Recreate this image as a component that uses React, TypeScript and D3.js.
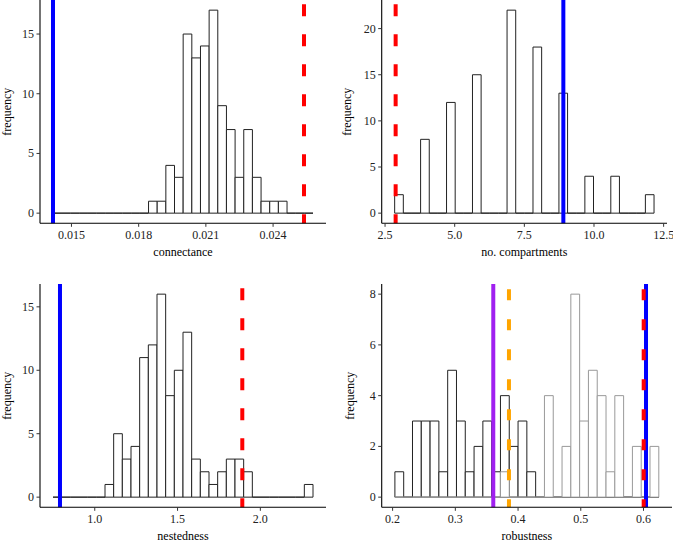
import * as d3 from "d3";

// connectance panel
const connBinStart = 0.01419;
const connBinWidth = 0.0003864;
const connCounts = [
  0, 0, 0, 0, 0, 0, 0, 0, 0, 0, 0, 1, 1, 4, 3, 15, 13, 14, 17, 9, 7, 3, 7, 3, 1, 1, 1, 0, 0, 0,
];
const connObserved = 0.014176;
const connNullMean = 0.02538;
const connTicks = [0.015, 0.018, 0.021, 0.024];
const connYTicks = [0, 5, 10, 15];

// compartments panel
const compBinStart = 2.845;
const compBinWidth = 9 / 29;
const compCounts = [
  2, 0, 0, 8, 0, 0, 12, 0, 0, 15, 0, 0, 0, 22, 0, 0, 18, 0, 0, 13, 0, 0, 4, 0, 0, 4, 0, 0, 0, 2,
];
const compObserved = 8.9;
const compNullMean = 2.88;
const compTicks = [2.5, 5, 7.5, 10, 12.5];
const compYTicks = [0, 5, 10, 15, 20];

// nestedness panel
const nestBinStart = 0.7478;
const nestBinWidth = 0.05234;
const nestCounts = [
  0, 0, 0, 0, 0, 0, 1, 5, 3, 4, 11, 12, 16, 8, 10, 13, 3, 2, 1, 2, 3, 3, 2, 0, 0, 0, 0, 0, 0, 1,
];
const nestObserved = 0.79;
const nestNullMean = 1.891;
const nestTicks = [1.0, 1.5, 2.0];
const nestYTicks = [0, 5, 10, 15];

// robustness panel (two null models)
const robBinStart = 0.20365;
const robBinWidth = 0.014025;
const robCountsA = [
  1, 0, 3, 3, 3, 1, 5, 3, 1, 2, 3, 1, 4, 2, 3, 1, 0, 0, 0, 0, 0, 0, 0, 0, 0, 0, 0, 0, 0, 0,
];
const robCountsB = [
  0, 0, 0, 0, 0, 0, 0, 0, 0, 0, 0, 0, 1, 0, 0, 0, 0, 4, 0, 2, 8, 3, 5, 4, 1, 4, 0, 2, 0, 2,
];
const robPurple = 0.3605;
const robOrange = 0.3855;
const robRed = 0.6003;
const robBlue = 0.604;
const robTicks = [0.2, 0.3, 0.4, 0.5, 0.6];
const robYTicks = [0, 2, 4, 6, 8];

const FONT = "Liberation Serif, Times New Roman, serif";

type Hist = { start: number; width: number; counts: number[]; stroke: string };
type VLine = { x: number; color: string; dash?: string };

interface PanelProps {
  id: string;
  left: number;
  right: number;
  top: number;
  bottom: number;
  hists: Hist[];
  vlines: VLine[];
  xTicks: number[];
  yTicks: number[];
  fmt: string;
  xTitle: string;
  yTitleX: number;
}

function Panel({ id, left, right, top, bottom, hists, vlines, xTicks, yTicks, fmt, xTitle, yTitleX }: PanelProps) {
  const lo = d3.min([...hists.map((h) => h.start), ...vlines.map((v) => v.x)]) as number;
  const hi = d3.max([
    ...hists.map((h) => h.start + h.width * h.counts.length),
    ...vlines.map((v) => v.x),
  ]) as number;
  const pad = (hi - lo) * 0.05;
  const x = d3.scaleLinear().domain([lo - pad, hi + pad]).range([left, right]);
  const ymax = d3.max(hists.flatMap((h) => h.counts)) as number;
  const y = d3.scaleLinear().domain([-ymax * 0.05, ymax * 1.05]).range([bottom, top]);
  const f = d3.format(fmt);

  return (
    <g>
      <defs>
        <clipPath id={id}>
          <rect x={left} y={top} width={right - left} height={bottom - top} />
        </clipPath>
      </defs>
      {hists.map((h, hi2) => (
        <g key={hi2}>
          {h.counts.map((c, i) => {
            const x0 = x(h.start + i * h.width);
            const x1 = x(h.start + (i + 1) * h.width);
            const y0 = y(0);
            const y1 = y(c);
            return (
              <path
                key={i}
                d={`M${x0},${y0}V${y1}H${x1}V${y0}Z`}
                fill="white"
                stroke={h.stroke}
                strokeWidth={1}
              />
            );
          })}
        </g>
      ))}
      <g clipPath={`url(#${id})`}>
        {vlines.map((v, i) => (
          <line
            key={i}
            x1={x(v.x)}
            x2={x(v.x)}
            y1={bottom + 3}
            y2={top}
            stroke={v.color}
            strokeWidth={4}
            strokeDasharray={v.dash}
          />
        ))}
      </g>
      {/* axes */}
      <line x1={left} x2={left} y1={top} y2={bottom} stroke="black" strokeWidth={1.1} />
      <line x1={left} x2={right} y1={bottom} y2={bottom} stroke="black" strokeWidth={1.1} />
      {yTicks.map((t) => (
        <g key={t}>
          <line x1={left - 3.5} x2={left} y1={y(t)} y2={y(t)} stroke="#333" strokeWidth={1} />
          <text
            x={left - 6}
            y={y(t)}
            dy="0.33em"
            textAnchor="end"
            fontFamily={FONT}
            fontSize={12}
            fill="#222"
          >
            {t}
          </text>
        </g>
      ))}
      {xTicks.map((t) => (
        <g key={t}>
          <line x1={x(t)} x2={x(t)} y1={bottom} y2={bottom + 3.5} stroke="#333" strokeWidth={1} />
          <text x={x(t)} y={bottom + 16} textAnchor="middle" fontFamily={FONT} fontSize={12} fill="#222">
            {f(t)}
          </text>
        </g>
      ))}
      <text
        x={(left + right) / 2}
        y={bottom + 32.5}
        textAnchor="middle"
        fontFamily={FONT}
        fontSize={12}
        fill="black"
      >
        {xTitle}
      </text>
      <text
        transform={`translate(${yTitleX},${(top + bottom) / 2}) rotate(-90)`}
        textAnchor="middle"
        fontFamily={FONT}
        fontSize={12}
        fill="black"
      >
        frequency
      </text>
    </g>
  );
}

export default function App() {
  const dash = "12 18";
  return (
    <div style={{ position: "absolute", left: 0, top: 0 }}>
      <svg width={673} height={543} style={{ display: "block", background: "white" }}>
        <Panel
          id="c1"
          left={40}
          right={326}
          top={0}
          bottom={223.3}
          hists={[{ start: connBinStart, width: connBinWidth, counts: connCounts, stroke: "#222" }]}
          vlines={[
            { x: connObserved, color: "#0000FF" },
            { x: connNullMean, color: "#FF0000", dash },
          ]}
          xTicks={connTicks}
          yTicks={connYTicks}
          fmt=".3f"
          xTitle="connectance"
          yTitleX={10.7}
        />
        <Panel
          id="c2"
          left={381.7}
          right={667}
          top={0}
          bottom={223.3}
          hists={[{ start: compBinStart, width: compBinWidth, counts: compCounts, stroke: "#222" }]}
          vlines={[
            { x: compObserved, color: "#0000FF" },
            { x: compNullMean, color: "#FF0000", dash },
          ]}
          xTicks={compTicks}
          yTicks={compYTicks}
          fmt=".1f"
          xTitle="no. compartments"
          yTitleX={350.7}
        />
        <Panel
          id="c3"
          left={40}
          right={326}
          top={284}
          bottom={507.3}
          hists={[{ start: nestBinStart, width: nestBinWidth, counts: nestCounts, stroke: "#222" }]}
          vlines={[
            { x: nestObserved, color: "#0000FF" },
            { x: nestNullMean, color: "#FF0000", dash },
          ]}
          xTicks={nestTicks}
          yTicks={nestYTicks}
          fmt=".1f"
          xTitle="nestedness"
          yTitleX={10.7}
        />
        <Panel
          id="c4"
          left={381.7}
          right={672}
          top={284}
          bottom={507.3}
          hists={[
            { start: robBinStart, width: robBinWidth, counts: robCountsA, stroke: "#222" },
            { start: robBinStart, width: robBinWidth, counts: robCountsB, stroke: "#999" },
          ]}
          vlines={[
            { x: robPurple, color: "#A020F0" },
            { x: robOrange, color: "#FFA500", dash: "11 19" },
            { x: robBlue, color: "#0000FF" },
            { x: robRed, color: "#FF0000", dash: "11 19" },
          ]}
          xTicks={robTicks}
          yTicks={robYTicks}
          fmt=".1f"
          xTitle="robustness"
          yTitleX={354}
        />
      </svg>
    </div>
  );
}
